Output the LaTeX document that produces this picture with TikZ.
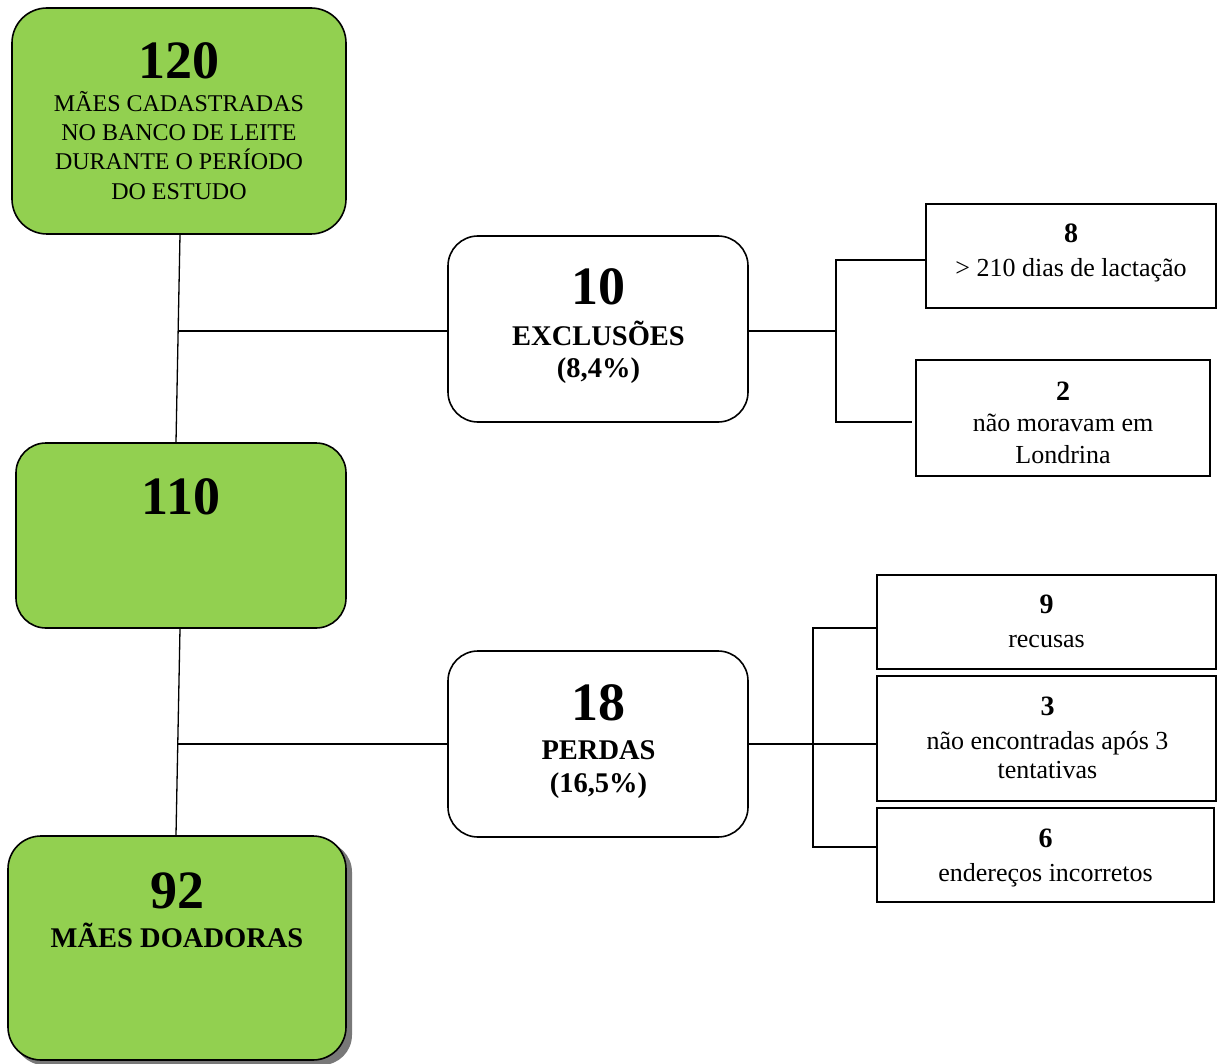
\documentclass[tikz,border=0pt]{standalone}
\usepackage{fontspec}
\setmainfont{Liberation Serif}
\definecolor{boxgreen}{RGB}{146,208,80}
\definecolor{shadowgray}{RGB}{120,120,120}
\begin{document}
\begin{tikzpicture}[x=1pt,y=-1pt,
  gbox/.style={draw=black, line width=1.6pt, fill=boxgreen, rounded corners=30pt, inner sep=0pt, anchor=center},
  wbox/.style={draw=black, line width=1.6pt, fill=white, rounded corners=30pt, inner sep=0pt, anchor=center},
  sbox/.style={draw=black, line width=1.6pt, fill=white, inner sep=0pt, anchor=center},
  conn/.style={draw=black, line width=1.3pt},
  bignum/.style={anchor=base, font=\fontsize{54}{60}\selectfont\bfseries, inner sep=0pt},
  boldlab/.style={anchor=base, font=\fontsize{28.5}{32}\selectfont\bfseries, inner sep=0pt},
  reglab/.style={anchor=base, font=\fontsize{24}{28}\selectfont, inner sep=0pt},
  smallnum/.style={anchor=base, font=\fontsize{28}{32}\selectfont\bfseries, inner sep=0pt},
  smalllab/.style={anchor=base, font=\fontsize{26}{30}\selectfont, inner sep=0pt}]
\useasboundingbox (0,0) rectangle (1217,1064);

% shadow of box C
\fill[shadowgray, rounded corners=30pt] (14,842) rectangle (352,1065);

% green boxes
\node[gbox, minimum width=334pt, minimum height=226pt, rounded corners=35pt] (A) at (179,121) {};
\node[gbox, minimum width=330pt, minimum height=185pt] (B) at (181,535.5) {};
\node[gbox, minimum width=338pt, minimum height=224pt, rounded corners=33pt] (C) at (177,948) {};

% white rounded boxes
\node[wbox, minimum width=300pt, minimum height=186pt] (E) at (598,329) {};
\node[wbox, minimum width=300pt, minimum height=186pt] (P) at (598,744) {};

% small rectangles
\node[sbox, minimum width=290pt, minimum height=104pt] (b8) at (1071,256) {};
\node[sbox, minimum width=294pt, minimum height=116pt] (b2) at (1063,418) {};
\node[sbox, minimum width=339pt, minimum height=94pt] (b9) at (1046.5,622) {};
\node[sbox, minimum width=339pt, minimum height=125pt] (b3) at (1046.5,738.5) {};
\node[sbox, minimum width=337pt, minimum height=94pt] (b6) at (1045.5,855) {};

% texts box A
\node[bignum] (tA0) at (179,79) {120};
\node[reglab] (tA1) at (179,112) {MÃES CADASTRADAS};
\node[reglab] (tA2) at (179,141) {NO BANCO DE LEITE};
\node[reglab] (tA3) at (179,170) {DURANTE O PERÍODO};
\node[reglab] (tA4) at (179,200) {DO ESTUDO};
% box B
\node[bignum] (tB0) at (181,514) {110};
% box C
\node[bignum] (tC0) at (177,908) {92};
\node[boldlab] (tC1) at (177,947) {MÃES DOADORAS};
% box E
\node[bignum] (tE0) at (598.5,305) {10};
\node[boldlab] (tE1) at (598.5,345) {EXCLUSÕES};
\node[boldlab] (tE2) at (598.5,377) {(8,4\%)};
% box P
\node[bignum] (tP0) at (598.5,720) {18};
\node[boldlab] (tP1) at (598.5,759) {PERDAS};
\node[boldlab] (tP2) at (598.5,792) {(16,5\%)};
% small boxes
\node[smallnum] (t80) at (1071,243) {8};
\node[smalllab] (t81) at (1071,277) {> 210 dias de lactação};
\node[smallnum] (t20) at (1063,400) {2};
\node[smalllab] (t21) at (1063,431) {não moravam em};
\node[smalllab] (t22) at (1063,463) {Londrina};
\node[smallnum] (t90) at (1046.5,613) {9};
\node[smalllab] (t91) at (1046.5,647) {recusas};
\node[smallnum] (t30) at (1047.5,715) {3};
\node[smalllab] (t31) at (1047.5,749) {não encontradas após 3};
\node[smalllab] (t32) at (1047.5,778) {tentativas};
\node[smallnum] (t60) at (1045.5,847) {6};
\node[smalllab] (t61) at (1045.5,881) {endereços incorretos};

% main vertical connectors
\draw[conn] ([xshift=1pt]A.south) -- ([xshift=-5pt]B.north);
\draw[conn] ([xshift=-1pt]B.south) -- ([xshift=-1pt]C.north);
\coordinate (J1) at (178,331);
\coordinate (J2) at (178,744);
\draw[conn] (J1) -- (J1 -| E.west);
\draw[conn] (J2) -- (J2 -| P.west);

% exclusions bracket
\coordinate (K0) at (836,331);
\coordinate (K8) at (836,260);
\coordinate (K2) at (836,422);
\draw[conn] (K0 -| E.east) -- (K0);
\draw[conn] (K8 -| b8.west) -- (K8) -- (K2) -- ([xshift=-3pt]K2 -| b2.west);

% losses bracket
\coordinate (L9) at (813,628);
\coordinate (L6) at (813,847);
\coordinate (L3) at (813,744);
\draw[conn] (L3 -| P.east) -- (L3 -| b3.west);
\draw[conn] (L9 -| b9.west) -- (L9) -- (L6) -- (L6 -| b6.west);
\end{tikzpicture}
\end{document}
